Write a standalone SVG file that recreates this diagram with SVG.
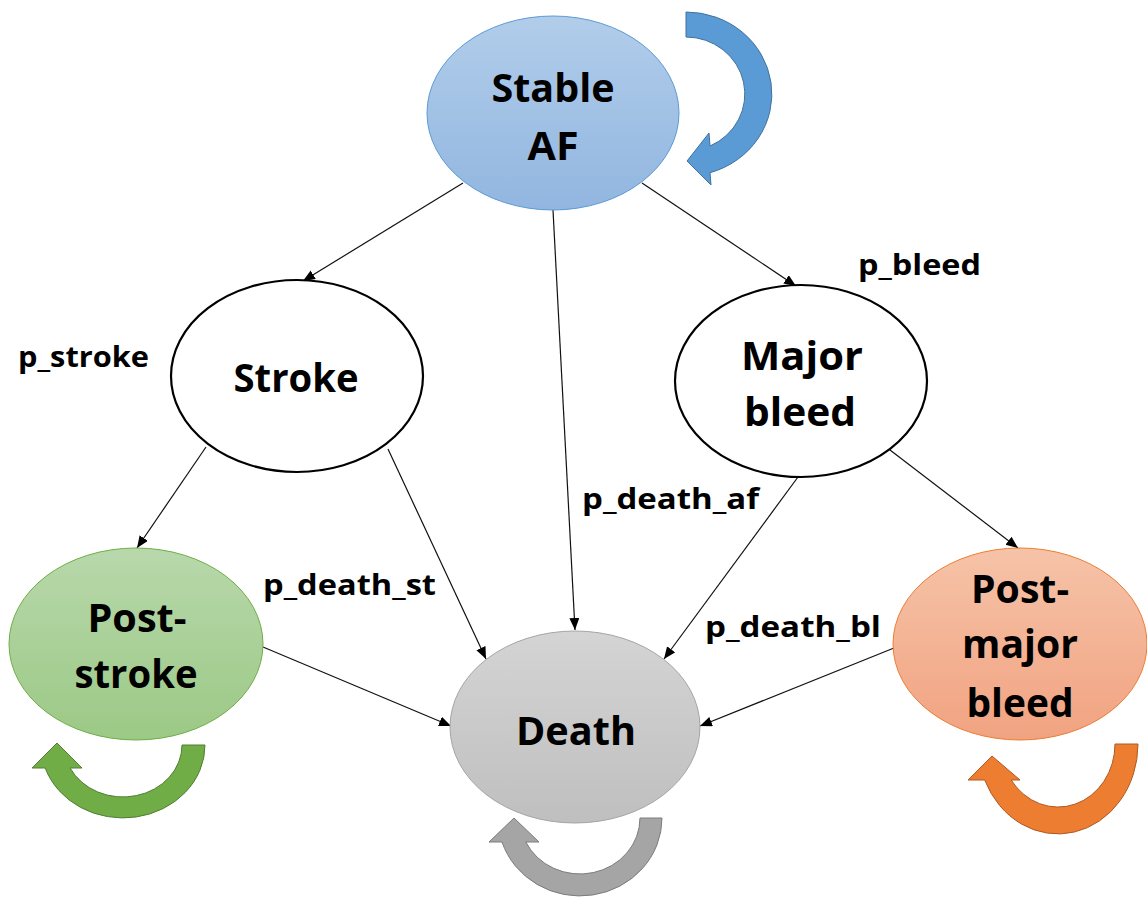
<svg xmlns="http://www.w3.org/2000/svg" width="1147" height="901" viewBox="0 0 1147 901">
  <style>
    .lbl { font-family: "Open Sans", "Noto Sans", "Liberation Sans", sans-serif; font-weight: 700; fill: #000; }
    .big { font-size: 39px; text-anchor: middle; }
    .small { font-size: 29px; }
    .edge { stroke: #111; stroke-width: 1.2; fill: none; marker-end: url(#head); }
    .plain { fill: #fff; stroke: #000; stroke-width: 2.2; }
  </style>
  <defs>
    <marker id="head" markerUnits="userSpaceOnUse" markerWidth="13" markerHeight="11" refX="12" refY="5" orient="auto">
      <path d="M0,0 L12,5 L0,10 Z" fill="#000"/>
    </marker>
    <linearGradient id="gBlue" x1="0" y1="0" x2="0" y2="1">
      <stop offset="0" stop-color="#b1cdea"/>
      <stop offset="1" stop-color="#92b6e0"/>
    </linearGradient>
    <linearGradient id="gGreen" x1="0" y1="0" x2="0" y2="1">
      <stop offset="0" stop-color="#b8d8ab"/>
      <stop offset="1" stop-color="#9cc986"/>
    </linearGradient>
    <linearGradient id="gGray" x1="0" y1="0" x2="0" y2="1">
      <stop offset="0" stop-color="#d4d4d4"/>
      <stop offset="1" stop-color="#bfbfbf"/>
    </linearGradient>
    <linearGradient id="gOrange" x1="0" y1="0" x2="0" y2="1">
      <stop offset="0" stop-color="#f6c3a8"/>
      <stop offset="1" stop-color="#f1a381"/>
    </linearGradient>
  </defs>

  <rect width="1147" height="901" fill="#fff"/>

  <!-- transitions between states -->
  <g id="connectors">
    <line class="edge" x1="463" y1="183" x2="303" y2="281"/>
    <line class="edge" x1="553" y1="210" x2="575" y2="630"/>
    <line class="edge" x1="642" y1="183" x2="796" y2="286"/>
    <line class="edge" x1="206" y1="447" x2="137" y2="548"/>
    <line class="edge" x1="388" y1="449" x2="486" y2="659"/>
    <line class="edge" x1="798" y1="477" x2="664" y2="659"/>
    <line class="edge" x1="890" y1="450" x2="1018" y2="548"/>
    <line class="edge" x1="263" y1="647" x2="451" y2="726"/>
    <line class="edge" x1="894" y1="648" x2="700" y2="726"/>
  </g>

  <!-- transition probability labels -->
  <g id="edge-labels">
    <text class="lbl small" x="18" y="367" textLength="131" lengthAdjust="spacingAndGlyphs">p_stroke</text>
    <text class="lbl small" x="858" y="275" textLength="123" lengthAdjust="spacingAndGlyphs">p_bleed</text>
    <text class="lbl small" x="582" y="509" textLength="177" lengthAdjust="spacingAndGlyphs">p_death_af</text>
    <text class="lbl small" x="263" y="595" textLength="173" lengthAdjust="spacingAndGlyphs">p_death_st</text>
    <text class="lbl small" x="705" y="637" textLength="176" lengthAdjust="spacingAndGlyphs">p_death_bl</text>
  </g>

  <!-- states -->
  <g id="stable-af">
    <ellipse cx="553" cy="113" rx="126" ry="97" fill="url(#gBlue)" stroke="#5b9bd5" stroke-width="1"/>
    <text class="lbl big" x="553" y="102" textLength="123" lengthAdjust="spacingAndGlyphs">Stable</text>
    <text class="lbl big" x="553" y="160" textLength="51" lengthAdjust="spacingAndGlyphs">AF</text>
    <path d="M686,37 L686,12 A86,82 0 0 1 710,172.7 L711,185 L687,161 L709,133 L710,146 A59,57 0 0 0 686,37 Z" fill="#5b9bd5" stroke="#41719c" stroke-width="1"/>
  </g>

  <g id="stroke">
    <ellipse class="plain" cx="297" cy="376" rx="126" ry="96"/>
    <text class="lbl big" x="296" y="392" textLength="125" lengthAdjust="spacingAndGlyphs">Stroke</text>
  </g>

  <g id="major-bleed">
    <ellipse class="plain" cx="801" cy="381" rx="126" ry="96"/>
    <text class="lbl big" x="802" y="370" textLength="122" lengthAdjust="spacingAndGlyphs">Major</text>
    <text class="lbl big" x="800" y="426" textLength="112" lengthAdjust="spacingAndGlyphs">bleed</text>
  </g>

  <g id="post-stroke">
    <ellipse cx="136" cy="644" rx="127" ry="96" fill="url(#gGreen)" stroke="#70ad47" stroke-width="1"/>
    <text class="lbl big" x="137" y="632" textLength="99" lengthAdjust="spacingAndGlyphs">Post-</text>
    <text class="lbl big" x="136" y="688" textLength="123" lengthAdjust="spacingAndGlyphs">stroke</text>
    <path d="M182,745 L205,745 A82,73 0 0 1 45.2,768 L32,768 L57,743 L82,768 L70.1,768 A59,52 0 0 0 182,745 Z" fill="#70ad47" stroke="#507e32" stroke-width="1"/>
  </g>

  <g id="death">
    <ellipse cx="575" cy="727" rx="125" ry="96" fill="url(#gGray)" stroke="#a5a5a5" stroke-width="1"/>
    <text class="lbl big" x="576" y="745" textLength="120" lengthAdjust="spacingAndGlyphs">Death</text>
    <path d="M640,818 L662,818 A82,78 0 0 1 502,842 L489,842 L514,818 L539,842 L525.8,842 A60,56 0 0 0 640,818 Z" fill="#a5a5a5" stroke="#7c7c7c" stroke-width="1"/>
  </g>

  <g id="post-major-bleed">
    <ellipse cx="1020" cy="644" rx="127" ry="96" fill="url(#gOrange)" stroke="#ed7d31" stroke-width="1"/>
    <text class="lbl big" x="1020" y="603" textLength="98" lengthAdjust="spacingAndGlyphs">Post-</text>
    <text class="lbl big" x="1020" y="658" textLength="116" lengthAdjust="spacingAndGlyphs">major</text>
    <text class="lbl big" x="1020" y="717" textLength="107" lengthAdjust="spacingAndGlyphs">bleed</text>
    <path d="M1115,744 L1138,744 A80,90 0 0 1 984.7,780 L968,780 L992,756 L1020,780 L1011.2,780 A57,63 0 0 0 1115,744 Z" fill="#ed7d31" stroke="#ae5a21" stroke-width="1"/>
  </g>
</svg>
